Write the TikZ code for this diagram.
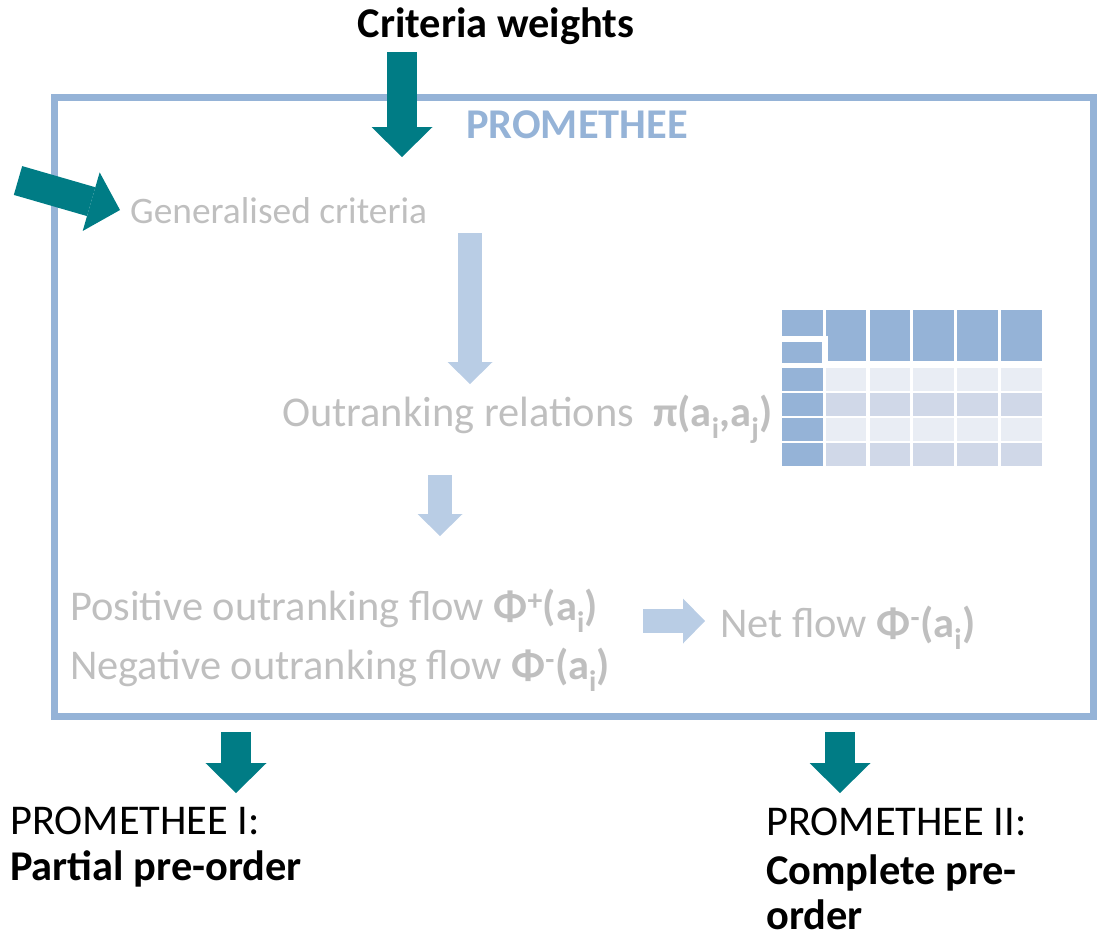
\documentclass[tikz,border=0pt]{standalone}
\usepackage{fontspec}
\setmainfont{Carlito}
\usetikzlibrary{arrows.meta}

\definecolor{frameblue}{RGB}{149,179,215}
\definecolor{paleblue}{RGB}{185,205,229}
\definecolor{tealdark}{RGB}{0,124,133}
\definecolor{textgray}{RGB}{191,191,191}
\definecolor{rowlight}{RGB}{233,237,244}
\definecolor{rowdark}{RGB}{208,216,232}

\tikzset{
  tealarrow/.style={draw=tealdark, line width=30pt,
    -{Triangle[length=30pt,width=61pt,line width=0pt]}},
  palearrow/.style={draw=paleblue, line width=24pt,
    -{Triangle[length=22pt,width=45pt,line width=0pt]}},
  txt/.style={inner sep=0pt, anchor=base west, font=\fontsize{42.4}{50}\selectfont},
  boldtxt/.style={txt, font=\fontsize{42.4}{50}\selectfont\bfseries},
  graytxt/.style={txt, text=textgray},
}

\begin{document}
\begin{tikzpicture}[x=1pt, y=-1pt]
 \useasboundingbox (0,0) rectangle (1105,940);

 % frame
 \draw[frameblue, line width=7pt] (54,97) rectangle (1093,716);
 \node[boldtxt, anchor=base, text=frameblue] (promtitle) at (577,138) {PROMETHEE};

 % inputs
 \node[boldtxt, anchor=base] (weights) at (496,37) {Criteria weights};
 \coordinate (wstart) at (402,52);
 \coordinate (wend) at (402,157);
 \draw[tealarrow] (wstart) -- (wend);

 \coordinate (cstart) at (18,180.5);
 \coordinate (cend) at (120,210);
 \draw[tealarrow] (cstart) -- (cend);

 \node[graytxt, font=\fontsize{37.4}{44}\selectfont] (gencrit) at (130,223) {Generalised criteria};

 \coordinate (a1) at (470,233);
 \coordinate (b1) at (470,384);
 \draw[palearrow] (a1) -- (b1);

 \node[graytxt] (outrank) at (282,426)
   {Outranking relations\ \ \textbf{π(a\textsubscript{i},a\textsubscript{j})}};

 % table
 \fill[frameblue] (782,310) rectangle ++(40.5,53);
 \foreach \c in {1,...,5}
   \fill[frameblue] ({782+43.8*\c},310) rectangle ++(40.5,51);
 \foreach \r in {0,...,3}
   \fill[frameblue] (782,{368+25*\r}) rectangle ++(40.5,23);
 \foreach \r/\shade in {0/rowlight,1/rowdark,2/rowlight,3/rowdark}
   \foreach \c in {1,...,5}
     \fill[\shade] ({782+43.8*\c},{368+25*\r}) rectangle ++(40.5,23);
 \draw[white, line width=6pt] (780,339) -- (825,339) -- (825,366);

 \coordinate (a2) at (440,475);
 \coordinate (b2) at (440,536);
 \draw[palearrow] (a2) -- (b2);

 \node[graytxt] (posflow) at (70,620)
   {Positive outranking flow \textbf{Φ\textsuperscript{+}(a\textsubscript{i})}};
 \node[graytxt] (negflow) at (70,679)
   {Negative outranking flow \textbf{Φ\textsuperscript{-}(a\textsubscript{i})}};

 \coordinate (a3) at (643,621);
 \coordinate (b3) at (705,621);
 \draw[palearrow] (a3) -- (b3);

 \node[graytxt] (netflow) at (720,637)
   {Net flow \textbf{Φ\textsuperscript{-}(a\textsubscript{i})}};

 % outputs
 \coordinate (o1) at (236,732);
 \coordinate (p1) at (236,793);
 \draw[tealarrow] (o1) -- (p1);
 \coordinate (o2) at (840,732);
 \coordinate (p2) at (840,793);
 \draw[tealarrow] (o2) -- (p2);

 \node[txt] (promone) at (10,834) {PROMETHEE I:};
 \node[boldtxt] (partial) at (10,880) {Partial pre-order};

 \node[txt] (promtwo) at (766,835) {PROMETHEE II:};
 \node[boldtxt] (complete) at (766,884) {Complete pre-};
 \node[boldtxt] (order) at (766,929) {order};
\end{tikzpicture}
\end{document}
